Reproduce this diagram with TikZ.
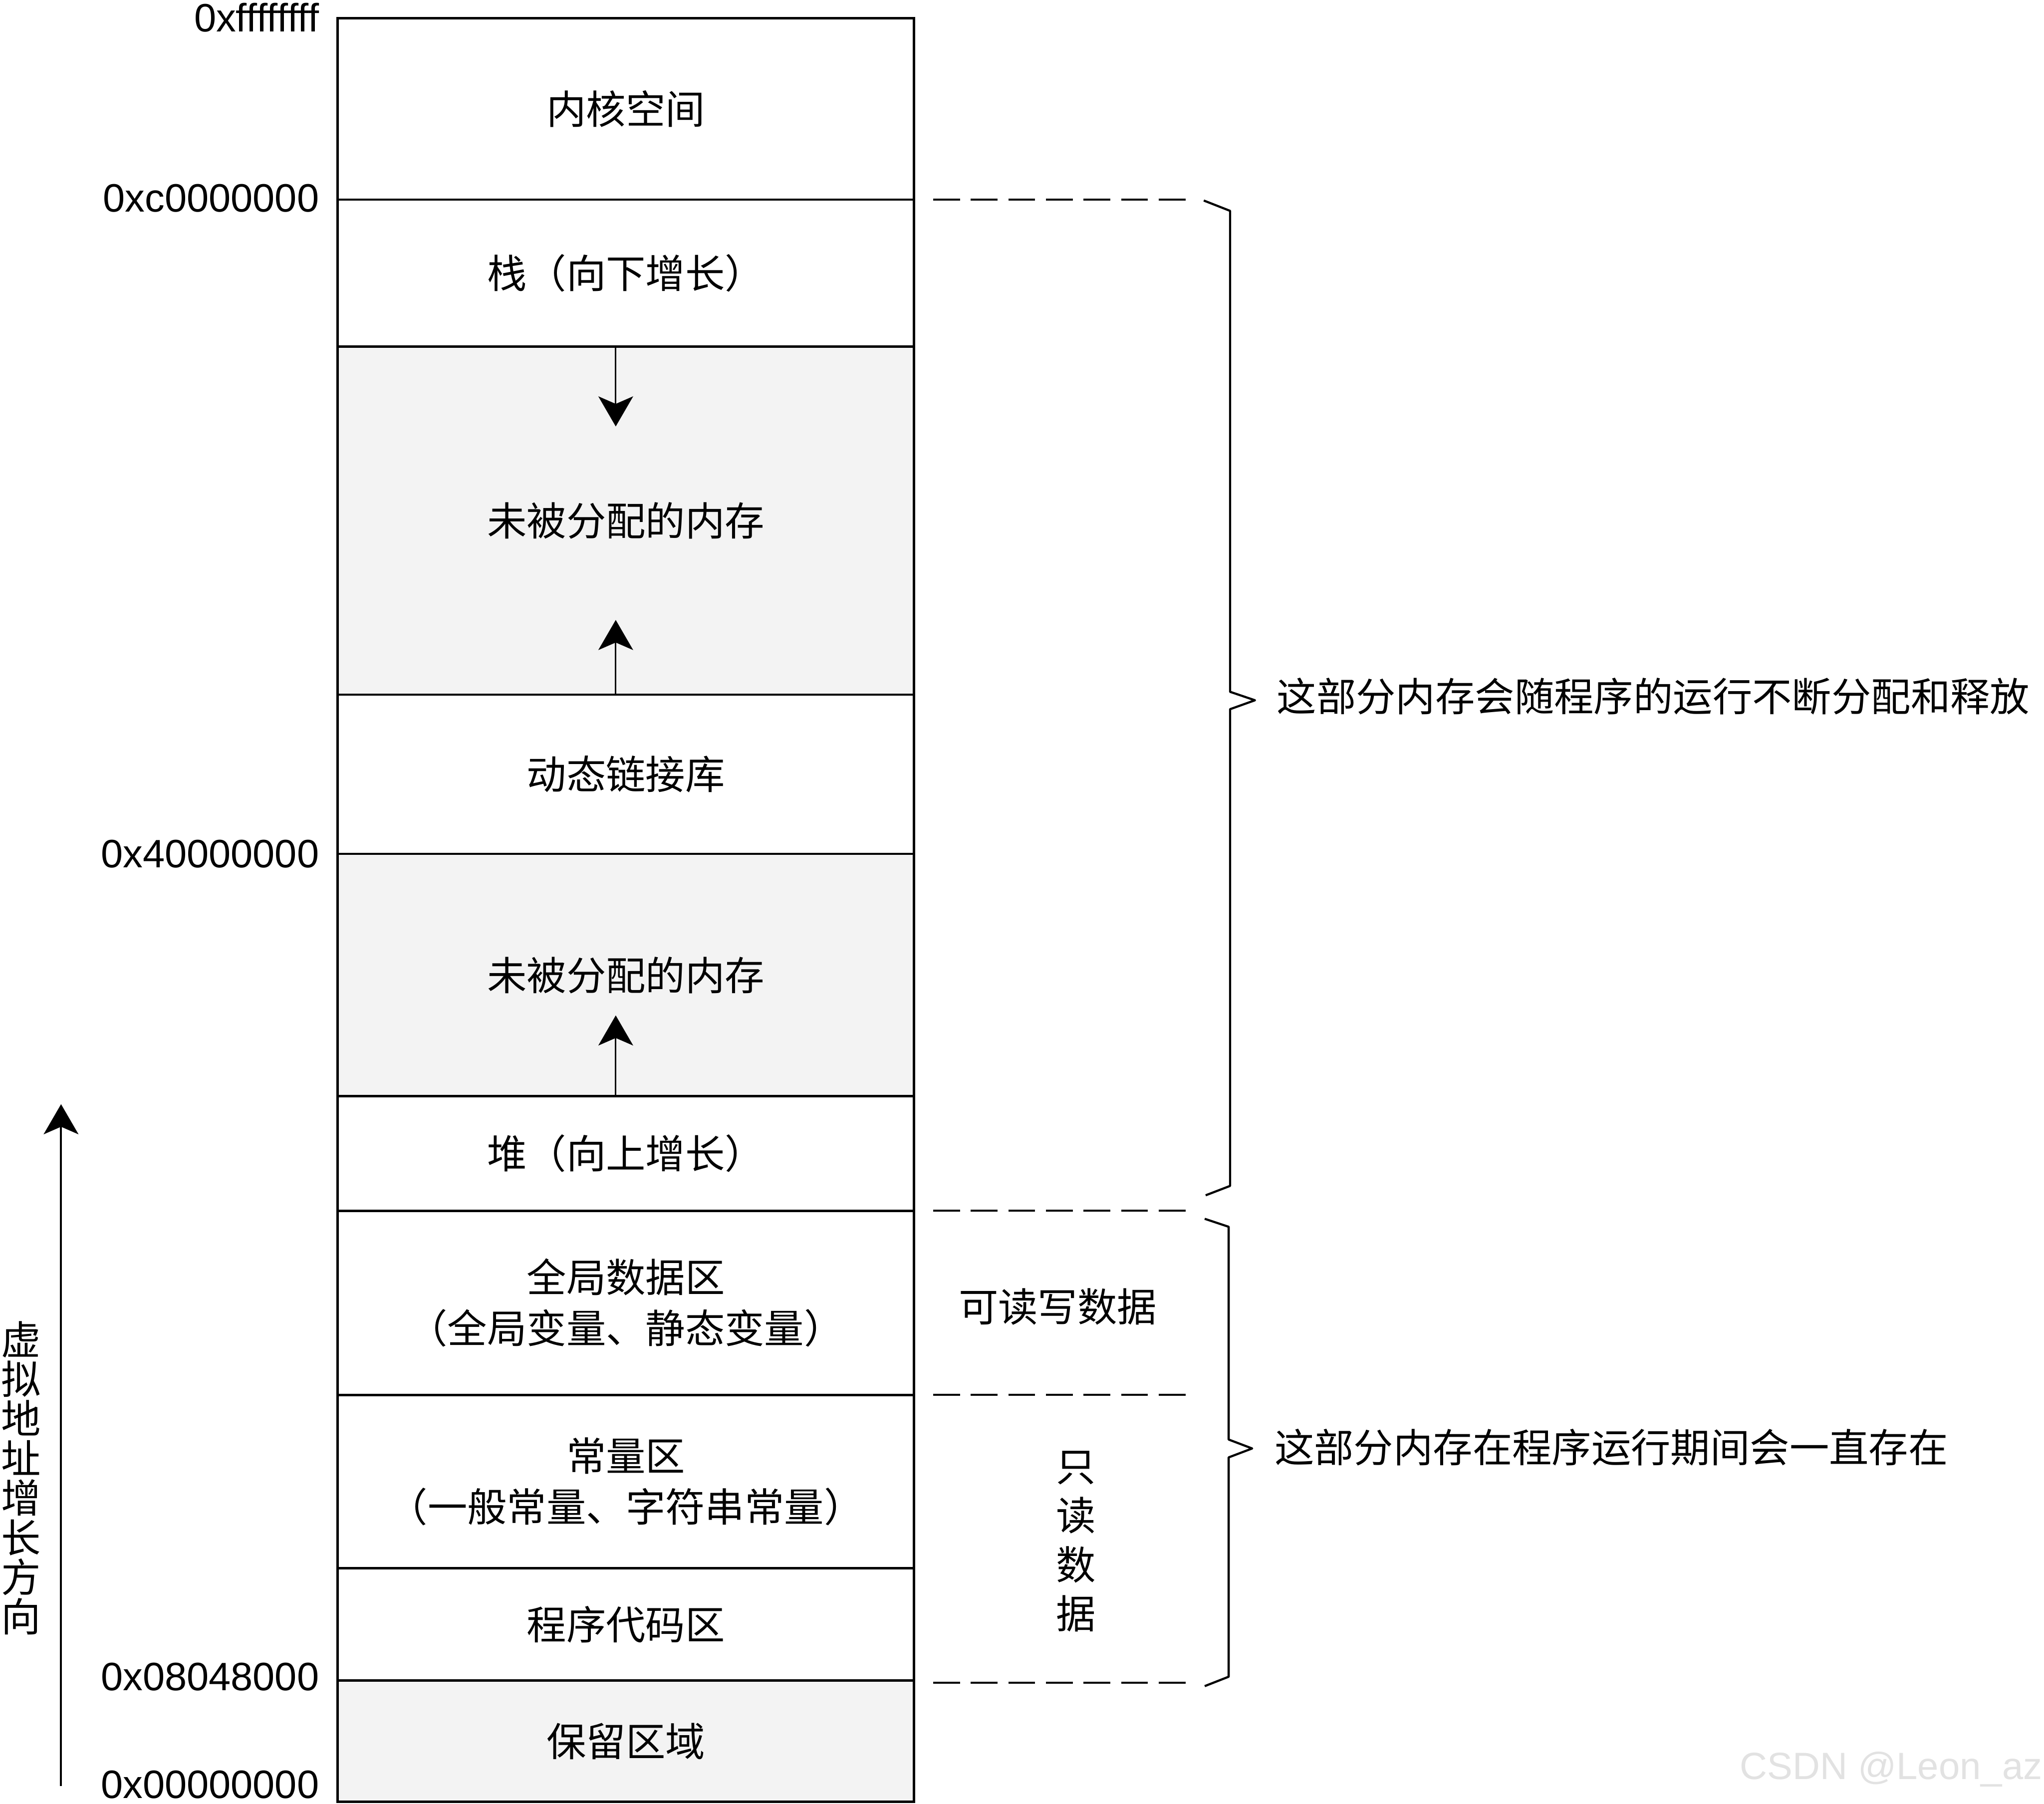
\documentclass[tikz,border=0pt]{standalone}
\usepackage{fontspec}
\setmainfont{Liberation Sans}[Ligatures=NoCommon]
\newfontfamily\cjk{Noto Sans CJK SC}
\usetikzlibrary{arrows.meta}
\definecolor{freegray}{RGB}{243,243,243}
\definecolor{markgray}{RGB}{226,226,226}

\begin{document}
\begin{tikzpicture}[
  region/.style={draw, line width=1.4pt, minimum width=12.27cm, inner sep=0pt, align=center, font=\cjk\fontsize{24}{30.7}\selectfont},
  free/.style={region, fill=freegray},
  addr/.style={anchor=east, inner sep=0pt, font=\fontsize{24}{29}\selectfont},
  note/.style={inner sep=0pt, align=center, font=\cjk\fontsize{24}{29}\selectfont},
  growarrow/.style={-{Stealth[length=6.4mm, width=7.4mm, inset=1.6mm]}, line width=0.9pt},
  guide/.style={line width=1.3pt, dash pattern=on 5.7mm off 2.3mm},
  brace/.style={line width=1.3pt, line join=round},
  watermark/.style={anchor=east, inner sep=0pt, text=markgray, font=\fontsize{23}{28}\selectfont}
]
\path[use as bounding box, fill=white] (0,0) rectangle (43.52,38.40);

% memory layout
\node[region, minimum height=3.86cm] (kernel) at (13.325,36.08) {内核空间};
\node[region, minimum height=3.13cm] (stack) at (13.325,32.585) {栈（向下增长）};
\node[free, minimum height=7.41cm] (free1) at (13.325,27.315) {未被分配的内存};
\node[region, minimum height=3.39cm] (dll) at (13.325,21.915) {动态链接库};
\node[free, minimum height=5.16cm] (free2) at (13.325,17.64) {未被分配的内存};
\node[region, minimum height=2.44cm] (heap) at (13.325,13.84) {堆（向上增长）};
\node[region, minimum height=3.92cm] (data) at (13.325,10.66) {全局数据区\\（全局变量、静态变量）};
\node[region, minimum height=3.69cm] (const) at (13.325,6.855) {常量区\\（一般常量、字符串常量）};
\node[region, minimum height=2.39cm] (code) at (13.325,3.815) {程序代码区};
\node[free, minimum height=2.58cm] (reserved) at (13.325,1.33) {保留区域};

% addresses
\node[addr] (aff) at (6.80,38.03) {0xffffffff};
\node[addr] (ac0) at (6.80,34.18) {0xc0000000};
\node[addr] (a40) at (6.80,20.22) {0x40000000};
\node[addr] (a08) at (6.80,2.70) {0x08048000};
\node[addr] (a00) at (6.80,0.40) {0x00000000};

% growth arrows
\coordinate (stacktip) at (13.11,29.32);
\coordinate (dlltip) at (13.11,25.20);
\coordinate (heaptip) at (13.11,16.78);
\draw[growarrow] (stack.south -| stacktip) -- (stacktip);
\draw[growarrow] (dll.north -| dlltip) -- (dlltip);
\draw[growarrow] (heap.north -| heaptip) -- (heaptip);

\coordinate (addrlow) at (1.30,0.37);
\coordinate (addrhigh) at (1.30,14.89);
\draw[growarrow, line width=1.2pt] (addrlow) -- (addrhigh);
\node[note, font=\cjk\fontsize{24}{24}\selectfont] (dir) at (0.45,6.93) {虚\\拟\\地\\址\\增\\长\\方\\向};

% dashed guides
\draw[guide] (19.87,34.15) -- (25.25,34.15);
\draw[guide] (19.87,12.62) -- (25.25,12.62);
\draw[guide] (19.87,8.70) -- (25.25,8.70);
\draw[guide] (19.87,2.57) -- (25.25,2.57);

\node[note] (rw) at (22.52,10.58) {可读写数据};
\node[note, font=\cjk\fontsize{24}{29.8}\selectfont] (ro) at (22.91,5.58) {只\\读\\数\\据};

% braces
\draw[brace] (25.63,34.13) -- (26.19,33.91) -- (26.19,23.67) -- (26.72,23.49)
  -- (26.19,23.30) -- (26.19,13.15) -- (25.67,12.95);
\draw[brace] (25.65,12.45) -- (26.16,12.28) -- (26.16,7.75) -- (26.66,7.56)
  -- (26.16,7.37) -- (26.16,2.70) -- (25.65,2.50);

\node[note, anchor=west] (dynamic) at (27.18,23.57) {这部分内存会随程序的运行不断分配和释放};
\node[note, anchor=west] (static) at (27.13,7.58) {这部分内存在程序运行期间会一直存在};

\node[watermark] (csdn) at (43.49,0.73) {CSDN @Leon\_az};
\end{tikzpicture}
\end{document}
